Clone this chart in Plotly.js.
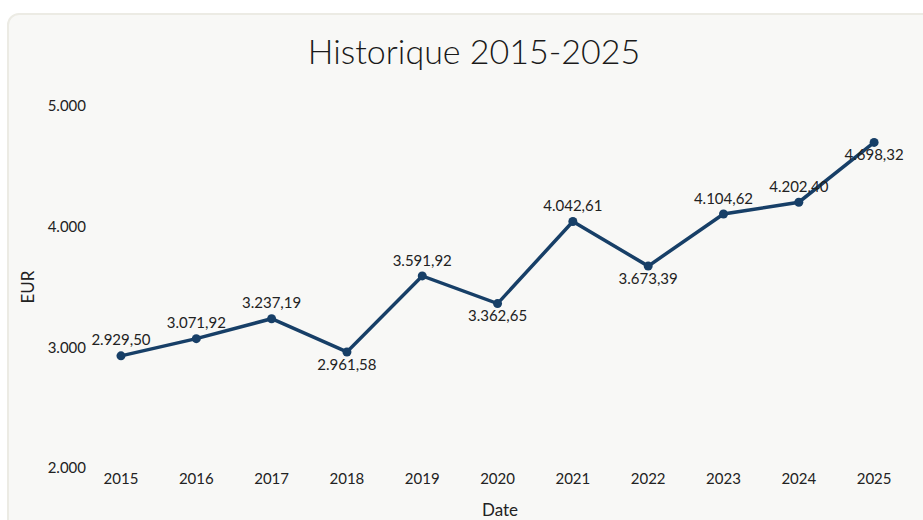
<!DOCTYPE html>
<html>
<head>
<meta charset="utf-8">
<script src="https://cdn.plot.ly/plotly-3.0.1.min.js"></script>
<style>
  html, body { margin: 0; padding: 0; background: #ffffff; }
  #wrap { position: relative; width: 923px; height: 520px; overflow: hidden; }
  #card { position: absolute; left: 7px; top: 13px; width: 940px; height: 540px;
          background: #f8f8f6; border: 2px solid #ecebe4; border-radius: 12px; box-sizing: border-box; }
  #chart { position: absolute; left: 0; top: 0; width: 923px; height: 520px; }
</style>
</head>
<body>
<div id="wrap">
  <div id="card"></div>
  <div id="chart"></div>
</div>
<script>
const years = [2015, 2016, 2017, 2018, 2019, 2020, 2021, 2022, 2023, 2024, 2025];
const values = [2929.50, 3071.92, 3237.19, 2961.58, 3591.92, 3362.65, 4042.61, 3673.39, 4104.62, 4202.40, 4698.32];
const labelPositions = ['top center', 'top center', 'top center', 'bottom center', 'top center',
  'bottom center', 'top center', 'bottom center', 'top center', 'top center', 'bottom center'];
const yTicks = [2000, 3000, 4000, 5000];

const fontFam = 'Lato, "DejaVu Sans", sans-serif';

const trace = {
  x: years,
  y: values,
  type: 'scatter',
  mode: 'lines+markers+text',
  line: { color: '#173f67', width: 3.5 },
  marker: { color: '#173f67', size: 9 },
  texttemplate: '%{y:,.2f}',
  textposition: labelPositions,
  textfont: { family: fontFam, size: 15, color: '#222222' },
  hoverinfo: 'skip',
  cliponaxis: false
};

const layout = {
  width: 923,
  height: 520,
  separators: ',.',
  paper_bgcolor: 'rgba(0,0,0,0)',
  plot_bgcolor: 'rgba(0,0,0,0)',
  margin: { l: 95, r: 18, t: 106, b: 52 },
  showlegend: false,
  title: {
    text: 'Historique 2015-2025',
    font: { family: fontFam, size: 34, weight: 300, color: '#1a1a1a' },
    x: 474 / 923,
    xref: 'container',
    xanchor: 'center',
    y: 1 - 52 / 520,
    yref: 'container',
    yanchor: 'middle'
  },
  xaxis: {
    range: [2014.655, 2025.41],
    tickvals: years,
    ticktext: years.map(String),
    showgrid: false,
    zeroline: false,
    showline: false,
    ticks: '',
    tickfont: { family: fontFam, size: 15, color: '#222222' },
    title: { text: 'Date', font: { family: fontFam, size: 17, color: '#222222' }, standoff: 18 }
  },
  yaxis: {
    range: [2000, 5000],
    tickvals: yTicks,
    tickformat: ',d',
    showgrid: false,
    zeroline: false,
    showline: false,
    ticks: '',
    ticklabelstandoff: 8,
    tickfont: { family: fontFam, size: 15, color: '#222222' },
    title: { text: 'EUR', font: { family: fontFam, size: 17, color: '#222222' }, standoff: 8 }
  }
};

Plotly.newPlot('chart', [trace], layout, { displayModeBar: false, staticPlot: true });
</script>
</body>
</html>
